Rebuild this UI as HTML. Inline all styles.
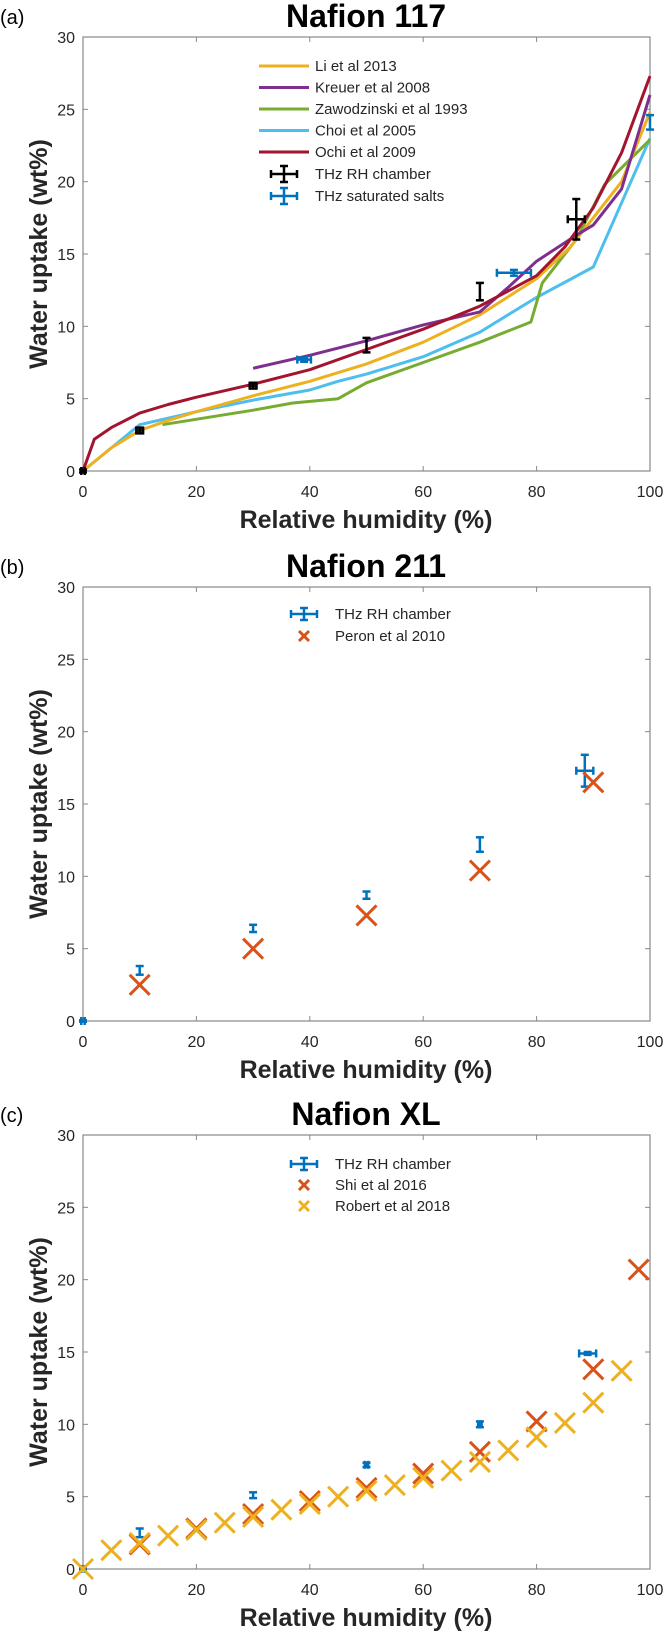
<!DOCTYPE html>
<html><head><meta charset="utf-8"><style>
html,body{margin:0;padding:0;background:#fff;}
svg{display:block;font-family:"Liberation Sans",Arial,sans-serif;}
</style></head><body>
<svg id="fig" width="664" height="1632" viewBox="0 0 664 1632"></svg>
<script>
// ---- Panel (a) data ----
const liX=[0,5,10,15,20,30,40,50,60,70,80,86,90,95,100];
const liY=[0,1.6,2.8,3.5,4.1,5.2,6.2,7.4,8.9,10.8,13.3,15.5,17.5,20,24.8];
const krX=[30,40,50,60,70,75,80,87,90,95,100];
const krY=[7.1,8.0,9.0,10.1,11.0,12.7,14.5,16.3,17.0,19.5,26.0];
const zaX=[14,30,37,45,50,60,70,79,81,87,92,100];
const zaY=[3.2,4.2,4.7,5.0,6.1,7.5,8.9,10.3,13.0,16.0,19.8,22.9];
const chX=[0,10,20,30,40,45,50,60,70,80,90,100];
const chY=[0,3.2,4.1,4.9,5.6,6.2,6.7,7.9,9.6,12.0,14.1,23.0];
const ocX=[0,2,5,10,15,20,30,40,50,60,70,80,85,90,95,100];
const ocY=[0,2.2,3.0,4.0,4.6,5.1,6.0,7.0,8.4,9.8,11.4,13.5,15.5,18.2,22.0,27.3];
const aRhX=[0,10,30,50,70,87];
const aRhY=[0,2.8,5.9,8.7,12.4,17.4];
const aRhYe=[0.1,0.2,0.2,0.5,0.6,1.4];
const aRhXe=[0.3,0.6,0.6,0,0,1.5];
const aSsX=[39,76,100];
const aSsY=[7.7,13.7,24.1];
const aSsYe=[0.15,0.2,0.5];
const aSsXe=[1.2,3,0];
// ---- Panel (b) data ----
const bRhX=[0,10,30,50,70,88.5];
const bRhY=[0,3.5,6.4,8.7,12.2,17.3];
const bRhYe=[0.05,0.3,0.25,0.25,0.5,1.1];
const bRhXe=[0.3,0,0,0,0,1.5];
const peX=[10,30,50,70,90];
const peY=[2.5,5.0,7.3,10.4,16.5];
// ---- Panel (c) data ----
const cRhX=[0,10,30,50,70,89];
const cRhY=[0,2.5,5.1,7.2,10.0,14.9];
const cRhYe=[0.05,0.3,0.2,0.15,0.2,0.1];
const cRhXe=[0.3,0,0,0.3,0.3,1.5];
const shX=[10,20,30,40,50,60,70,80,90,98];
const shY=[1.7,2.8,3.8,4.7,5.6,6.6,8.1,10.2,13.8,20.7];
const roX=[0,5,10,15,20,25,30,35,40,45,50,55,60,65,70,75,80,85,90,95];
const roY=[0,1.3,1.8,2.3,2.7,3.2,3.6,4.1,4.5,5.0,5.4,5.8,6.3,6.8,7.4,8.2,9.1,10.1,11.5,13.7];
const xTicks=[0,20,40,60,80,100];
const yTicks=[0,5,10,15,20,25,30];

const NS="http://www.w3.org/2000/svg";
const svg=document.getElementById('fig');
function el(tag,attrs,parent,txt){const e=document.createElementNS(NS,tag);for(const k in attrs)e.setAttribute(k,attrs[k]);if(txt!==undefined)e.textContent=txt;(parent||svg).appendChild(e);return e;}
const L=83,R=650,H=434;
const C={li:'#EDB120',kr:'#7E2F8E',za:'#77AC30',ch:'#4DBEEE',oc:'#A2142F',bl:'#0072BD',or:'#D95319',bk:'#000'};

function panel(top,label,title,name){
  const g=el('g',{});
  
  
  const sx=v=>L+(v/100)*(R-L);
  const sy=v=>top+H-(v/30)*H;
  const lab=el('text',{x:0,y:top-13,'font-size':20,fill:'#000'},g,label);
  
  
  const t=el('text',{x:366,y:top-10,'font-size':32,'font-weight':'bold','text-anchor':'middle',fill:'#000'},g,title);
  
  
  el('rect',{x:L,y:top,width:R-L,height:H,fill:'#fff',stroke:'#888','stroke-width':1.2},g);
  xTicks.forEach(v=>{
    el('line',{x1:sx(v),x2:sx(v),y1:top+H,y2:top+H-5,stroke:'#888'},g);
    el('line',{x1:sx(v),x2:sx(v),y1:top,y2:top+5,stroke:'#888'},g);
    const tx=el('text',{x:sx(v),y:top+H+26,'font-size':16,'text-anchor':'middle',fill:'#262626'},g,String(v));
    
    
  });
  yTicks.forEach(v=>{
    el('line',{x1:L,x2:L+5,y1:sy(v),y2:sy(v),stroke:'#888'},g);
    el('line',{x1:R,x2:R-5,y1:sy(v),y2:sy(v),stroke:'#888'},g);
    const ty=el('text',{x:L-8,y:sy(v)+6,'font-size':16,'text-anchor':'end',fill:'#262626'},g,String(v));
    
    
  });
  const xt=el('text',{x:366,y:top+H+57,'font-size':25,'font-weight':'bold','text-anchor':'middle',fill:'#262626'},g,'Relative humidity (%)');
  
  
  const cy=top+H/2;
  const yt=el('text',{x:47,y:cy,'font-size':25,'font-weight':'bold','text-anchor':'middle',fill:'#262626',transform:'rotate(-90 47 '+cy+')'},g,'Water uptake (wt%)');
  
  
  return {g,sx,sy};
}
function line(p,xs,ys,col,name){
  const d=xs.map((x,i)=>(i?'L':'M')+p.sx(x).toFixed(1)+' '+p.sy(ys[i]).toFixed(1)).join(' ');
  const e=el('path',{d:d,fill:'none',stroke:col,'stroke-width':3,'stroke-linejoin':'round'},p.g);
  
  
}
function errbar(g,cx,cy,dx,dy,col,name){
  const gg=el('g',{stroke:col,'stroke-width':2.5,fill:'none'},g);
  
  
  if(dy>0.5){el('line',{x1:cx,x2:cx,y1:cy-dy,y2:cy+dy},gg);el('line',{x1:cx-4,x2:cx+4,y1:cy-dy,y2:cy-dy},gg);el('line',{x1:cx-4,x2:cx+4,y1:cy+dy,y2:cy+dy},gg);}
  if(dx>0.5){el('line',{x1:cx-dx,x2:cx+dx,y1:cy,y2:cy},gg);el('line',{x1:cx-dx,x2:cx-dx,y1:cy-4,y2:cy+4},gg);el('line',{x1:cx+dx,x2:cx+dx,y1:cy-4,y2:cy+4},gg);}
  if(dx<=0.5&&dy<=0.5){el('line',{x1:cx-3,x2:cx+3,y1:cy,y2:cy},gg);el('line',{x1:cx,x2:cx,y1:cy-3,y2:cy+3},gg);}
}
function errSeries(p,xs,ys,xe,ye,col,name){
  xs.forEach((x,i)=>{
    const cx=p.sx(x),cy=p.sy(ys[i]);
    const dx=p.sx(x+xe[i])-cx, dy=cy-p.sy(ys[i]+ye[i]);
    errbar(p.g,cx,cy,dx,dy,col,name);
  });
}
function cross(g,cx,cy,s,col,w,name){
  const gg=el('g',{stroke:col,'stroke-width':w},g);
  
  
  el('line',{x1:cx-s,y1:cy-s,x2:cx+s,y2:cy+s},gg);
  el('line',{x1:cx-s,y1:cy+s,x2:cx+s,y2:cy-s},gg);
}
function crossSeries(p,xs,ys,col,name){xs.forEach((x,i)=>cross(p.g,p.sx(x),p.sy(ys[i]),10,col,3,name));}
function legText(g,x,y,t){const e=el('text',{x:x,y:y+5,'font-size':15,fill:'#262626'},g,t);}

// Panel a
const pa=panel(37,'(a)','Nafion 117','panel-nafion-117');
line(pa,chX,chY,C.ch,'line-choi-2005');
line(pa,zaX,zaY,C.za,'line-zawodzinski-1993');
line(pa,liX,liY,C.li,'line-li-2013');
line(pa,krX,krY,C.kr,'line-kreuer-2008');
line(pa,ocX,ocY,C.oc,'line-ochi-2009');
errSeries(pa,aRhX,aRhY,aRhXe,aRhYe,C.bk,'errorbar-thz-rh-chamber');
errSeries(pa,aSsX,aSsY,aSsXe,aSsYe,C.bl,'errorbar-thz-saturated-salts');
[['Li et al 2013',C.li],['Kreuer et al 2008',C.kr],['Zawodzinski et al 1993',C.za],['Choi et al 2005',C.ch],['Ochi et al 2009',C.oc]].forEach((e,i)=>{
  const y=66+i*21.5;
  const l=el('line',{x1:259,x2:309,y1:y,y2:y,stroke:e[1],'stroke-width':3},pa.g);
  
  
  legText(pa.g,315,y,e[0]);
});
errbar(pa.g,284,174,13,8,C.bk,'legend-entry');legText(pa.g,315,174,'THz RH chamber');
errbar(pa.g,284,196,13,8,C.bl,'legend-entry');legText(pa.g,315,196,'THz saturated salts');

// Panel b
const pb=panel(587,'(b)','Nafion 211','panel-nafion-211');
errSeries(pb,bRhX,bRhY,bRhXe,bRhYe,C.bl,'errorbar-thz-rh-chamber');
crossSeries(pb,peX,peY,C.or,'marker-peron-2010');
errbar(pb.g,304,614,13,6,C.bl,'legend-entry');legText(pb.g,335,614,'THz RH chamber');
cross(pb.g,304,636,5,C.or,3,'legend-entry');legText(pb.g,335,636,'Peron et al 2010');

// Panel c
const pc=panel(1135,'(c)','Nafion XL','panel-nafion-xl');
errSeries(pc,cRhX,cRhY,cRhXe,cRhYe,C.bl,'errorbar-thz-rh-chamber');
crossSeries(pc,shX,shY,C.or,'marker-shi-2016');
crossSeries(pc,roX,roY,C.li,'marker-robert-2018');
errbar(pc.g,304,1164,13,6,C.bl,'legend-entry');legText(pc.g,335,1164,'THz RH chamber');
cross(pc.g,304,1185,5,C.or,3,'legend-entry');legText(pc.g,335,1185,'Shi et al 2016');
cross(pc.g,304,1206,5,C.li,3,'legend-entry');legText(pc.g,335,1206,'Robert et al 2018');
</script>
</body></html>
